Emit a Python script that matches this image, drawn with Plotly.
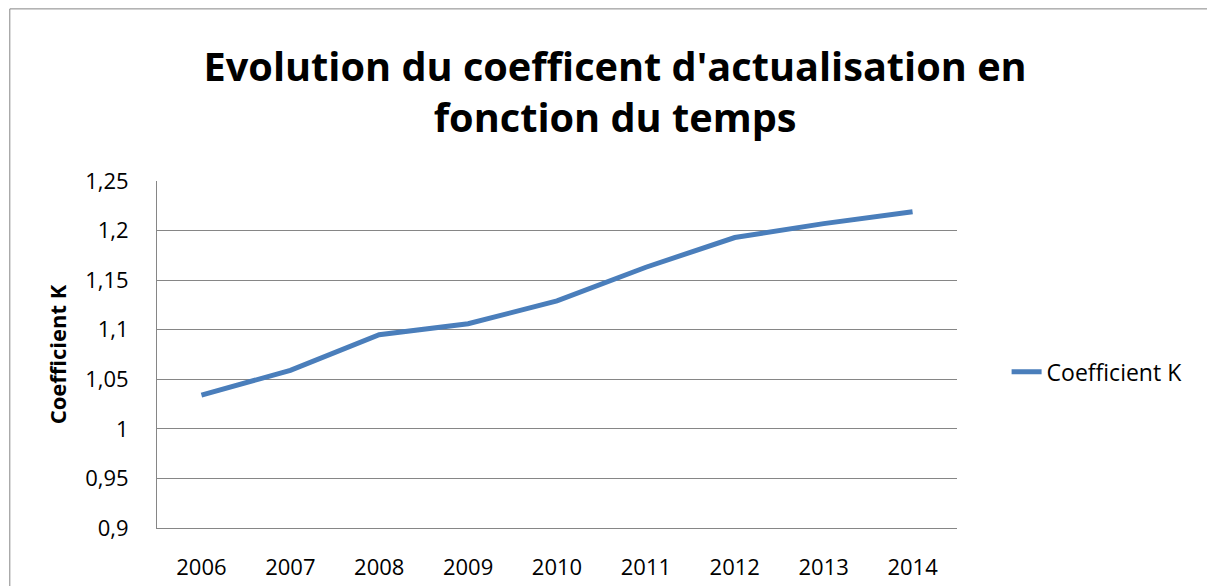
import plotly.graph_objects as go

annees = ['2006', '2007', '2008', '2009', '2010', '2011', '2012', '2013', '2014']
coef_k = [1.034, 1.059, 1.095, 1.106, 1.129, 1.163, 1.193, 1.207, 1.219]

y_ticks = [0.9, 0.95, 1, 1.05, 1.1, 1.15, 1.2, 1.25]
y_labels = ['0,9', '0,95', '1', '1,05', '1,1', '1,15', '1,2', '1,25']

police = 'Open Sans'
gris = '#868686'

fig = go.Figure()
fig.add_trace(go.Scatter(x=annees, y=coef_k, mode='lines', name='Coefficient K',
                         line=dict(color='#4a7ebb', width=5)))

# la page ajoute 8px de marge autour de la figure
fig.update_layout(
    width=1207, height=578,
    paper_bgcolor='white', plot_bgcolor='white',
    margin=dict(l=149, r=258, t=173, b=58, autoexpand=False),
    font=dict(family=police, size=22, color='black'),
    title=dict(text="<b>Evolution du coefficent d'actualisation en<br>fonction du temps</b>",
               x=0.503, xref='container', xanchor='center',
               y=0.874, yref='container', yanchor='middle',
               font=dict(size=39.7, family=police, color='black')),
    legend=dict(x=1.062, y=0.45, xanchor='left', yanchor='middle',
                font=dict(size=23), bgcolor='rgba(0,0,0,0)'),
    showlegend=True,
)

fig.update_xaxes(type='category', range=[-0.5, 8.5], showgrid=False, automargin=False,
                 showline=True, linecolor=gris, linewidth=1, ticks='',
                 ticklabelstandoff=20, tickfont=dict(size=22))
fig.update_yaxes(range=[0.9, 1.25], tickvals=y_ticks, ticktext=y_labels, automargin=False,
                 showgrid=True, gridcolor=gris, gridwidth=1,
                 showline=True, linecolor=gris, linewidth=1, ticks='',
                 zeroline=False, ticklabelstandoff=23, tickfont=dict(size=22),
                 title=dict(text='<b>Coefficient K</b>', font=dict(size=22), standoff=12))

# cadre du graphique
fig.add_shape(type='rect', xref='paper', yref='paper',
              x0=-0.184, x1=1.4, y0=-0.3, y1=1.496,
              line=dict(color=gris, width=1), layer='below')

fig.write_html('out.html')
